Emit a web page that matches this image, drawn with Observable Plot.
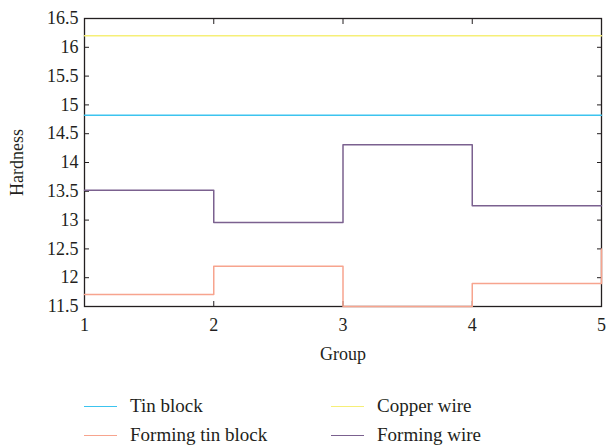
<!DOCTYPE html>
<html>
<head>
<meta charset="utf-8">
<script src="https://cdn.jsdelivr.net/npm/d3@7"></script>
<script src="https://cdn.jsdelivr.net/npm/@observablehq/plot@0.6"></script>
<style>
  body { margin: 0; background: #fff; }
  #chart { width: 607px; }
  #chart svg, #chart svg g, #chart svg text { font-family: "Liberation Serif", "DejaVu Serif", serif !important; font-variant: normal !important; font-variant-numeric: normal !important; }
  .legend { position: relative; width: 607px; height: 77px; font-family: "Liberation Serif", "DejaVu Serif", serif; font-size: 19px; color: #231f20; }
  .item { position: absolute; display: flex; align-items: center; }
  .swatch { width: 33px; height: 0; border-top: 1.4px solid; margin-right: 13px; }
</style>
</head>
<body>
<div id="chart"></div>
<script>
const groups = [1, 2, 3, 4, 5];
const seriesNames = ["Tin block", "Copper wire", "Forming tin block", "Forming wire"];
const seriesColors = ["#3cc4ef", "#f6ef78", "#f7a48e", "#7b618f"];
const tinBlock = [14.82, 14.82, 14.82, 14.82, 14.82];
const copperWire = [16.2, 16.2, 16.2, 16.2, 16.2];
const formingTinBlock = [11.71, 12.2, 11.5, 11.9, 12.5];
const formingWire = [13.52, 12.96, 14.31, 13.25, 13.25];
const yTicks = [11.5, 12, 12.5, 13, 13.5, 14, 14.5, 15, 15.5, 16, 16.5];
const xTicks = [1, 2, 3, 4, 5];

const seriesValues = [tinBlock, copperWire, formingTinBlock, formingWire];
const rows = [];
seriesNames.forEach((name, i) => {
  groups.forEach((g, j) => rows.push({series: name, group: g, value: seriesValues[i][j]}));
});

const font = '"Liberation Serif", "DejaVu Serif", serif';
const fmt = d => String(d);
const plot = Plot.plot({
  width: 607,
  height: 370,
  marginLeft: 84,
  marginRight: 6,
  marginTop: 18,
  marginBottom: 64,
  style: {fontFamily: font, fontSize: "18px", color: "#231f20", background: "#fff"},
  x: {domain: [1, 5]},
  y: {domain: [11.5, 16.5]},
  color: {domain: seriesNames, range: seriesColors},
  marks: [
    Plot.axisY({anchor: "left", ticks: yTicks, tickSize: -5, tickPadding: 11, tickFormat: fmt, label: "Hardness", labelAnchor: "center", labelArrow: "none", labelOffset: 74, fontSize: 18, fontFamily: font}),
    Plot.axisY({anchor: "right", ticks: yTicks, tickSize: -5, tickFormat: () => "", label: null}),
    Plot.axisX({anchor: "bottom", ticks: xTicks, tickSize: -5, tickPadding: 17, tickFormat: fmt, label: "Group", labelAnchor: "center", labelArrow: "none", labelOffset: 53, fontSize: 18, fontFamily: font}),
    Plot.axisX({anchor: "top", ticks: xTicks, tickSize: -5, tickFormat: () => "", label: null}),
    Plot.frame({stroke: "#231f20", strokeWidth: 1.3}),
    Plot.line(rows, {x: "group", y: "value", z: "series", stroke: "series", curve: "step-after", strokeWidth: 1.5})
  ]
});
document.getElementById("chart").appendChild(plot);

const legend = document.createElement("div");
legend.className = "legend";
const positions = [[84, 37], [331, 37], [84, 66], [331, 66]];
seriesNames.forEach((name, i) => {
  const it = document.createElement("div");
  it.className = "item";
  it.style.left = positions[i][0] + "px";
  it.style.top = (positions[i][1] - 12) + "px";
  const sw = document.createElement("span");
  sw.className = "swatch";
  sw.style.borderTopColor = seriesColors[i];
  const tx = document.createElement("span");
  tx.textContent = name;
  it.appendChild(sw);
  it.appendChild(tx);
  legend.appendChild(it);
});
document.getElementById("chart").appendChild(legend);
</script>
</body>
</html>
